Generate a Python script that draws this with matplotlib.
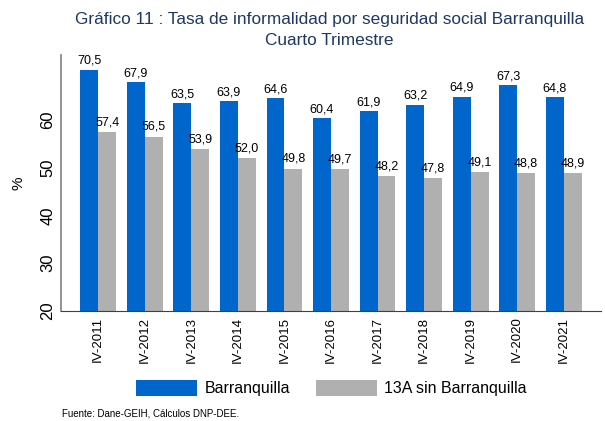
import matplotlib
matplotlib.use("Agg")
import matplotlib.pyplot as plt
import numpy as np

plt.rcParams['font.family'] = ['Liberation Sans', 'DejaVu Sans']

categories = ["IV-2011", "IV-2012", "IV-2013", "IV-2014", "IV-2015", "IV-2016",
              "IV-2017", "IV-2018", "IV-2019", "IV-2020", "IV-2021"]
barranquilla = [70.5, 67.9, 63.5, 63.9, 64.6, 60.4, 61.9, 63.2, 64.9, 67.3, 64.8]
trece_a = [57.4, 56.5, 53.9, 52.0, 49.8, 49.7, 48.2, 47.8, 49.1, 48.8, 48.9]
yticks = [20, 30, 40, 50, 60]

blue = "#0066CC"
gray = "#B0B0B0"

fig = plt.figure(figsize=(6.05, 4.21), dpi=100)
ax = fig.add_axes([61/605, 1 - 311/421, 540/605, (311-55)/421])

x = np.arange(len(categories))
w = 0.385
b1 = ax.bar(x - w/2, barranquilla, w, color=blue, label="Barranquilla")
b2 = ax.bar(x + w/2, trece_a, w, color=gray, label="13A sin Barranquilla")

for xi, v in zip(x - w/2, barranquilla):
    ax.text(xi, v + 0.6, f"{v:.1f}".replace(".", ","), ha="center", va="bottom", fontsize=9)
for xi, v in zip(x + w/2, trece_a):
    ax.text(xi, v + 0.8, f"{v:.1f}".replace(".", ","), ha="center", va="bottom", fontsize=9)

ax.set_ylim(20, 73.6)
ax.set_xlim(-0.8, 10.8)
ax.set_yticks(yticks)
ax.set_yticklabels([str(t) for t in yticks], rotation=90, va="center", fontsize=12)
ax.set_xticks(x)
ax.set_xticklabels(categories, rotation=90, fontsize=9.5)
ax.tick_params(axis="both", length=0, pad=4)
ax.set_ylabel("%", fontsize=11, labelpad=11)
for s in ["top", "right"]:
    ax.spines[s].set_visible(False)
ax.spines["left"].set_color("#808080")
ax.spines["bottom"].set_color("#404040")
ax.spines["left"].set_linewidth(1.2)

fig.text(0.545, 1 - 30/421, "Gráfico 11 : Tasa de informalidad por seguridad social Barranquilla\nCuarto Trimestre",
         ha="center", va="center", fontsize=12.4, color="#1F3864", linespacing=1.55)

fig.legend(handles=[b1, b2], loc="center", bbox_to_anchor=(0.548, 1 - 388/421), ncol=2,
           frameon=False, fontsize=11.5, handlelength=3.8, handleheight=1.15,
           handletextpad=0.5, columnspacing=1.6)

fig.text(62/605, 1 - 414/421, "Fuente: Dane-GEIH, Cálculos DNP-DEE.", fontsize=7, va="center")

fig.savefig("out.png", dpi=100)
